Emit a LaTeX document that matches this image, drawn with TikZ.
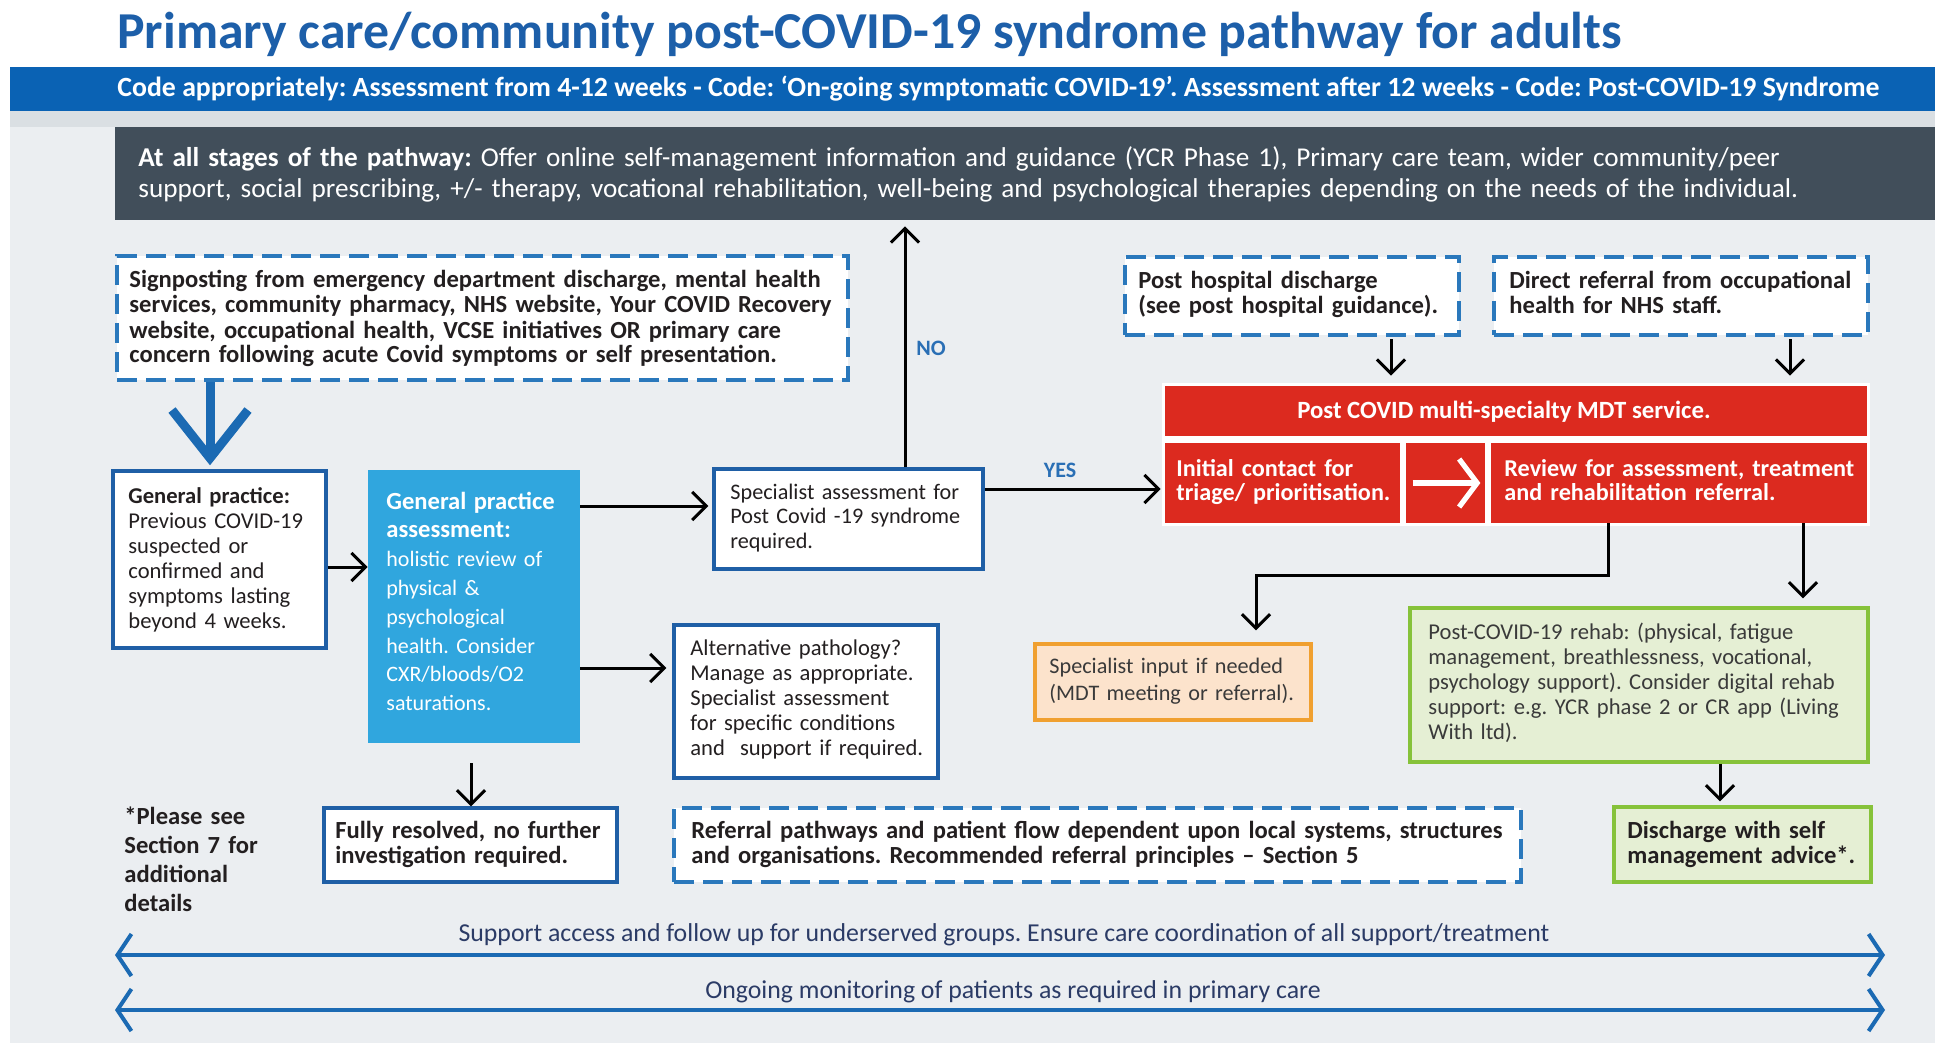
\documentclass[tikz,border=0pt]{standalone}
\usepackage{fontspec}
\setmainfont{Carlito}
\frenchspacing
\usetikzlibrary{arrows.meta,fit,calc}
\definecolor{titleblue}{HTML}{1D5FA9}
\definecolor{bandblue}{HTML}{0A62B4}
\definecolor{pagebg}{HTML}{EBEEF1}
\definecolor{stripgrey}{HTML}{DADFE3}
\definecolor{darkslate}{HTML}{414E5A}
\definecolor{frameblue}{HTML}{1F5FA6}
\definecolor{dashblue}{HTML}{2A78BC}
\definecolor{gpablue}{HTML}{30A6DE}
\definecolor{mdtred}{HTML}{DC2A1F}
\definecolor{orangeframe}{HTML}{F0A030}
\definecolor{orangefill}{HTML}{FCE3CC}
\definecolor{greenframe}{HTML}{86C23A}
\definecolor{greenfill}{HTML}{E5EFD4}
\definecolor{inktext}{HTML}{231F20}
\definecolor{softink}{HTML}{3A3A3A}
\definecolor{navytext}{HTML}{2B3B66}
\definecolor{arrowblue}{HTML}{1B6AB3}
\definecolor{labelblue}{HTML}{2A6FB5}
\tikzset{
  blueframe/.style={draw=frameblue,line width=1.7pt,fill=white,inner sep=0pt},
  dashbox/.style={draw=dashblue,line width=2.1pt,dash pattern=on 10pt off 4.5pt,fill=white,inner sep=0pt},
  orangebox/.style={draw=orangeframe,line width=1.7pt,fill=orangefill,inner sep=0pt},
  greenbox/.style={draw=greenframe,line width=1.7pt,fill=greenfill,inner sep=0pt},
  redcell/.style={fill=mdtred,inner sep=0pt},
  solidfill/.style={inner sep=0pt},
  lbl/.style={anchor=base west,inner sep=0pt,text width=480pt,align=left,text=inktext},
  oneline/.style={inner sep=0pt},
  bodyf/.style={font={\fontsize{11.3}{12.5}\selectfont}},
  boldf/.style={font={\bfseries\fontsize{12.3}{12.5}\selectfont}},
  redf/.style={font={\bfseries\fontsize{12.1}{12.4}\selectfont}},
  conn/.style={draw=black,line width=1.5pt,-{Straight Barb[length=7pt,width=14pt]}},
  bigarrow/.style={draw=arrowblue,line width=4.5pt,-{Straight Barb[length=24pt,width=38pt]}},
  longarrow/.style={draw=arrowblue,line width=2pt,{Straight Barb[length=7pt,width=21pt]}-{Straight Barb[length=7pt,width=21pt]}},
  yesno/.style={inner sep=0pt,text=labelblue,font={\bfseries\fontsize{11}{12}\selectfont}},
}
\begin{document}
\begin{tikzpicture}[x=0.5pt,y=-0.5pt]
\useasboundingbox (0,0) rectangle (1939,1043);
\fill[white] (0,0) rectangle (1939,1043);
\fill[pagebg] (10,111) rectangle (1935,1043);
\fill[stripgrey] (10,111) rectangle (1935,127);

% title and band
\node[oneline,anchor=base west,text=titleblue,font={\bfseries\fontsize{25.9}{28}\selectfont}] (title) at (117,49) {Primary care/community post-COVID-19 syndrome pathway for adults};
\node[solidfill,fill=bandblue,fit={(10,67)(1935,111)}] (band) {};
\node[oneline,anchor=base west,text=white,font={\bfseries\fontsize{13.9}{15}\selectfont}] (bandtxt) at (117,97) {Code appropriately: Assessment from 4-12 weeks - Code: ‘On-going symptomatic COVID-19’. Assessment after 12 weeks - Code: Post-COVID-19 Syndrome};

% dark box
\node[solidfill,fill=darkslate,fit={(115,127)(1935,220)}] (dark) {};
\node[lbl,text=white,text width=1000pt,font={\fontsize{13.6}{15.5}\selectfont}] (darktxt) at (138,167) {\textbf{At all stages of the pathway:} Offer online self-management information and guidance (YCR Phase 1), Primary care team, wider community/peer\\ support, social prescribing, +/- therapy, vocational rehabilitation, well-being and psychological therapies depending on the needs of the individual.};

% left column
\node[dashbox,fit={(117,256)(848,380)}] (sign) {};
\node[lbl,boldf] (signtxt) at (129,288) {Signposting from emergency department discharge, mental health\\ services, community pharmacy, NHS website, Your COVID Recovery\\ website, occupational health, VCSE initiatives OR primary care\\ concern following acute Covid symptoms or self presentation.};

\node[blueframe,fit={(113,471)(326,648)}] (gp) {};
\node[lbl,bodyf] (gptxt) at (128,503) {\textbf{General practice:}\\ Previous COVID-19\\ suspected or\\ confirmed and\\ symptoms lasting\\ beyond 4 weeks.};

\node[solidfill,fill=gpablue,fit={(368,470)(580,743)}] (gpa) {};
\node[lbl,text=white,font={\fontsize{11}{14.4}\selectfont}] (gpatxt) at (386,509) {{\bfseries\fontsize{12.3}{14.4}\selectfont General practice}\\ {\bfseries\fontsize{12.3}{14.4}\selectfont assessment:}\\ holistic review of\\ physical \&\\ psychological\\ health. Consider\\ CXR/bloods/O2\\ saturations.};

\node[blueframe,fit={(714,469)(983,569)}] (spec) {};
\node[lbl,font={\fontsize{11.1}{12.4}\selectfont}] (spectxt) at (730,499) {Specialist assessment for\\ Post Covid -19 syndrome\\ required.};

\node[blueframe,fit={(674,625)(938,778)}] (alt) {};
\node[lbl,bodyf] (alttxt) at (690,655) {Alternative pathology?\\ Manage as appropriate.\\ Specialist assessment\\ for specific conditions\\ and\ \ support if required.};

\node[blueframe,fit={(324,808)(617,882)}] (fully) {};
\node[lbl,boldf] (fullytxt) at (335,838) {Fully resolved, no further\\ investigation required.};

\node[lbl,font={\bfseries\fontsize{12.3}{14.6}\selectfont}] (please) at (124,824) {*Please see\\ Section 7 for\\ additional\\ details};

\node[dashbox,fit={(674,808)(1521,882)}] (refer) {};
\node[lbl,boldf] (refertxt) at (691,838) {Referral pathways and patient flow dependent upon local systems, structures\\ and organisations. Recommended referral principles – Section 5};

% right column
\node[dashbox,fit={(1125,257)(1459,335)}] (posth) {};
\node[lbl,boldf] (posthtxt) at (1138,289) {Post hospital discharge\\ (see post hospital guidance).};
\node[dashbox,fit={(1494,257)(1868,335)}] (direct) {};
\node[lbl,boldf] (directtxt) at (1509,289) {Direct referral from occupational\\ health for NHS staff.};

\fill[white] (1162,383) rectangle (1870,526);
\node[redcell,fit={(1165,386)(1867,436)}] (mdt) {};
\node[oneline,text=white,font={\bfseries\fontsize{12.4}{13}\selectfont}] (mdttxt) at (1504,412) {Post COVID multi-specialty MDT service.};
\node[redcell,fit={(1165,443)(1400,523)}] (init) {};
\node[redcell,fit={(1406,443)(1485,523)}] (mid) {};
\node[redcell,fit={(1491,443)(1867,523)}] (review) {};
\node[lbl,redf,text=white] (inittxt) at (1176,476) {Initial contact for\\ triage/ prioritisation.};
\node[lbl,redf,text=white] (reviewtxt) at (1504,476) {Review for assessment, treatment\\ and rehabilitation referral.};
\draw[white,line width=2.6pt,-{Straight Barb[length=9pt,width=24pt]}] ($(mid.west)+(7,0)$) -- ($(mid.east)+(-5,0)$);

\node[orangebox,fit={(1035,644)(1311,720)}] (specin) {};
\node[lbl,text=softink,font={\fontsize{11.1}{13.6}\selectfont}] (specintxt) at (1049,673) {Specialist input if needed\\ (MDT meeting or referral).};
\node[greenbox,fit={(1410,608)(1868,762)}] (rehab) {};
\node[lbl,bodyf,text=softink] (rehabtxt) at (1428,639) {Post-COVID-19 rehab: (physical, fatigue\\ management, breathlessness, vocational,\\ psychology support). Consider digital rehab\\ support: e.g. YCR phase 2 or CR app (Living\\ With ltd).};
\node[greenbox,fit={(1614,807)(1871,882)}] (disch) {};
\node[lbl,boldf] (dischtxt) at (1627,838) {Discharge with self\\ management advice*.};

% connectors
\coordinate (xbig) at (210,0);
\draw[bigarrow,shorten >=2pt] (sign.south -| xbig) -- (gp.north -| xbig);
\coordinate (ygp) at (0,567);
\draw[conn] (gp.east |- ygp) -- (gpa.west |- ygp);
\coordinate (yspec) at (0,506);
\draw[conn,shorten >=2pt] (gpa.east |- yspec) -- (spec.west |- yspec);
\coordinate (yalt) at (0,668);
\draw[conn,shorten >=3pt] (gpa.east |- yalt) -- (alt.west |- yalt);
\coordinate (xfully) at (471,0);
\draw[conn,shorten <=10pt] (gpa.south -| xfully) -- (fully.north -| xfully);
\coordinate (xno) at (905,0);
\draw[conn,shorten >=3pt] (spec.north -| xno) -- (dark.south -| xno);
\node[yesno] (nolbl) at (931,348) {NO};
\coordinate (yyes) at (0,489);
\draw[conn,shorten >=2pt] (spec.east |- yyes) -- (init.west |- yyes);
\node[yesno] (yeslbl) at (1060,470) {YES};
\coordinate (xposth) at (1391,0);
\draw[conn,shorten <=1pt,shorten >=5pt] (posth.south -| xposth) -- (mdt.north -| xposth);
\coordinate (xdirect) at (1790,0);
\draw[conn,shorten <=1pt,shorten >=5pt] (direct.south -| xdirect) -- (mdt.north -| xdirect);
\coordinate (xmdt) at (1608,0);
\coordinate (elbow) at (1256,575);
\draw[conn,shorten >=6pt] (review.south -| xmdt) |- (elbow) -- (specin.north -| elbow);
\coordinate (xrehab) at (1803,0);
\draw[conn,shorten >=4pt] (review.south -| xrehab) -- (rehab.north -| xrehab);
\coordinate (xdisch) at (1720,0);
\draw[conn,shorten >=2pt] (rehab.south -| xdisch) -- (disch.north -| xdisch);

% bottom arrows
\node[oneline,anchor=base,text=navytext,font={\fontsize{12.9}{14}\selectfont}] (support) at (1004,941) {Support access and follow up for underserved groups. Ensure care coordination of all support/treatment};
\coordinate (bl1) at (115,955);
\coordinate (br1) at (1885,955);
\draw[longarrow] (bl1) -- (br1);
\node[oneline,anchor=base,text=navytext,font={\fontsize{12.9}{14}\selectfont}] (monitor) at (1013,998) {Ongoing monitoring of patients as required in primary care};
\coordinate (bl2) at (115,1010);
\coordinate (br2) at (1885,1010);
\draw[longarrow] (bl2) -- (br2);
\end{tikzpicture}
\end{document}
